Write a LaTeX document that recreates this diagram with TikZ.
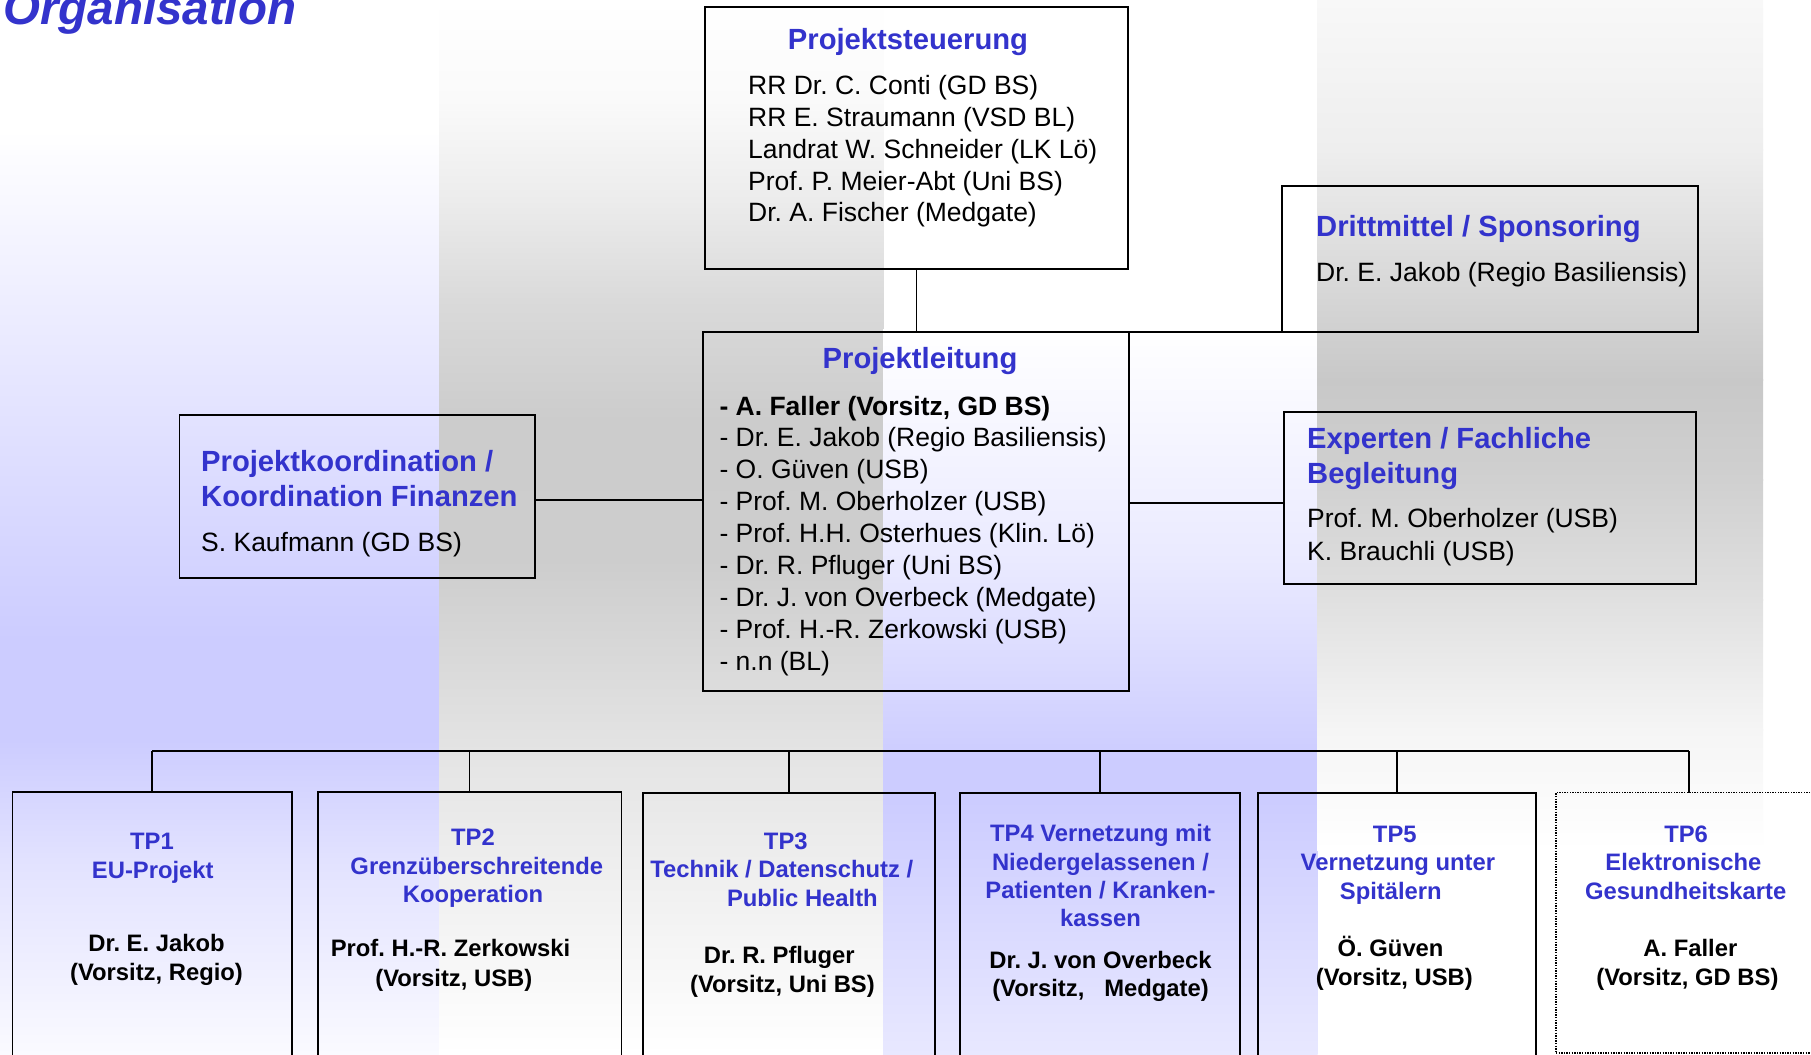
\documentclass[tikz,border=0pt]{standalone}
\usepackage{fontspec}
\setmainfont{Liberation Sans}
\usetikzlibrary{calc}
\definecolor{ttl}{RGB}{51,51,204}
\definecolor{lav}{RGB}{204,204,255}
\definecolor{aa3}{RGB}{226,226,255}
\definecolor{aa4}{RGB}{250,250,255}
\definecolor{bb1}{RGB}{250,250,250}
\definecolor{bb2}{RGB}{236,236,236}
\definecolor{bb3}{RGB}{218,218,218}
\definecolor{bb4}{RGB}{204,204,204}
\definecolor{bb5}{RGB}{205,205,205}
\definecolor{bb6}{RGB}{228,228,228}
\definecolor{cc1}{RGB}{234,234,255}
\definecolor{cc2}{RGB}{232,232,255}
\definecolor{dd0}{RGB}{248,248,248}
\definecolor{dd1}{RGB}{238,238,238}
\definecolor{dd2}{RGB}{200,200,200}
\definecolor{dd3}{RGB}{208,208,208}
\definecolor{dd4}{RGB}{224,224,224}
\definecolor{dd5}{RGB}{245,245,245}
\newcommand\bgseg[6]{\shade[top color=#5,bottom color=#6] (#1,#3-0.5) rectangle (#2,#4+0.5);}
\begin{document}
\frenchspacing
\begin{tikzpicture}[x=1pt,y=-1pt,
  box/.style={draw=black, line width=1.8pt, rectangle, inner sep=0pt, outer sep=0pt, anchor=north west},
  dotbox/.style={draw=black, line width=1.4pt, dash pattern=on 1.3pt off 1.3pt, rectangle, inner sep=0pt, outer sep=0pt, anchor=north west},
  conn/.style={draw=black, line width=1.8pt},
  ttlA/.style={text=ttl, font=\bfseries\fontsize{29.2}{35}\selectfont, inner sep=0pt},
  body/.style={text=black, font=\fontsize{26.5}{31.7}\selectfont, inner sep=0pt, anchor=base west},
  tpt/.style={text=ttl, font=\bfseries\fontsize{23.8}{29}\selectfont, inner sep=0pt, anchor=base},
  tpn/.style={text=black, font=\bfseries\fontsize{23.8}{29}\selectfont, inner sep=0pt, anchor=base}]
\useasboundingbox (0,0) rectangle (1811,1054);
\clip (0,0) rectangle (1811,1054);
\fill[white] (0,0) rectangle (1811,1054);
% band A
\bgseg{0}{439.5}{130}{640}{white}{lav}
\fill[lav] (0,640) rectangle (439.5,740);
\bgseg{0}{439.5}{740}{860}{lav}{aa3}
\bgseg{0}{439.5}{860}{1054}{aa3}{aa4}
% band B
\bgseg{439}{883.5}{0}{100}{white}{bb1}
\bgseg{439}{883.5}{100}{200}{bb1}{bb2}
\bgseg{439}{883.5}{200}{300}{bb2}{bb3}
\bgseg{439}{883.5}{300}{420}{bb3}{bb4}
\bgseg{439}{883.5}{420}{560}{bb4}{bb5}
\bgseg{439}{883.5}{560}{750}{bb5}{bb6}
\bgseg{439}{883.5}{750}{1054}{bb6}{white}
% band C
\bgseg{883}{1317.5}{330}{560}{white}{cc1}
\bgseg{883}{1317.5}{560}{760}{cc1}{lav}
\fill[lav] (883,760) rectangle (1317.5,800);
\bgseg{883}{1317.5}{800}{1054}{lav}{cc2}
% band D
\bgseg{1317}{1763}{0}{150}{dd0}{dd1}
\bgseg{1317}{1763}{150}{380}{dd1}{dd2}
\bgseg{1317}{1763}{380}{480}{dd2}{dd3}
\bgseg{1317}{1763}{480}{600}{dd3}{dd4}
\bgseg{1317}{1763}{600}{730}{dd4}{dd5}
\bgseg{1317}{1763}{730}{850}{dd5}{white}

% title
\node[text=ttl, font=\bfseries\itshape\fontsize{47.5}{57}\selectfont, inner sep=0pt, anchor=base west] (org) at (3,25) {Organisation};

% boxes
\node[box, minimum width=423pt, minimum height=262pt] (ps) at (705,7) {};
\node[box, minimum width=426pt, minimum height=359pt] (pl) at (703,332) {};
\node[box, minimum width=416pt, minimum height=146pt] (dm) at (1282,186) {};
\node[box, minimum width=355.5pt, minimum height=163.6pt] (pk) at (179.5,414.7) {};
\node[box, minimum width=412pt, minimum height=172pt] (ex) at (1284,412) {};
\node[box, minimum width=279.5pt, minimum height=300pt] (tp1) at (12.4,792.3) {};
\node[box, minimum width=303.9pt, minimum height=300pt] (tp2) at (317.6,791.7) {};
\node[box, minimum width=292.6pt, minimum height=300pt] (tp3) at (642.7,792.7) {};
\node[box, minimum width=279.9pt, minimum height=300pt] (tp4) at (960.2,792.7) {};
\node[box, minimum width=277.5pt, minimum height=300pt] (tp5) at (1258.2,792.7) {};
\node[dotbox, minimum width=266pt, minimum height=260.3pt] (tp6) at (1556,792.7) {};

% connectors
\draw[conn] (ps.south) -- (ps.south |- pl.north);
\draw[conn] (pl.north east) -- (dm.south west);
\coordinate (pkout) at ($(pk.north east)!0.52!(pk.south east)$);
\draw[conn] (pkout) -- (pkout -| pl.west);
\coordinate (exin) at ($(ex.north west)!0.53!(ex.south west)$);
\draw[conn] (exin) -- (exin -| pl.east);
\coordinate (bus) at (0,750.7);
\draw[conn] (tp1.north |- bus) -- (tp6.north |- bus);
\foreach \t in {tp1,tp2,tp3,tp4,tp5,tp6}
  \draw[conn] (\t.north) -- (\t.north |- bus);

% Projektsteuerung
\node[ttlA, anchor=base] (pst) at (908,50) {Projektsteuerung};
\node[body] (ps1) at (748,95) {RR Dr. C. Conti (GD BS)};
\node[body] (ps2) at (748,126.7) {RR E. Straumann (VSD BL)};
\node[body] (ps3) at (748,158.3) {Landrat W. Schneider (LK Lö)};
\node[body] (ps4) at (748,190) {Prof. P. Meier-Abt (Uni BS)};
\node[body] (ps5) at (748,221.7) {Dr. A. Fischer (Medgate)};

% Projektleitung
\node[ttlA, anchor=base] (plt) at (920,368.3) {Projektleitung};
\node[body, font=\bfseries\fontsize{26.5}{31.7}\selectfont] (pl1) at (719.3,415) {- A. Faller (Vorsitz, GD BS)};
\node[body] (pl2) at (719.3,446.9) {- Dr. E. Jakob (Regio Basiliensis)};
\node[body] (pl3) at (719.3,478.8) {- O. Güven (USB)};
\node[body] (pl4) at (719.3,510.7) {- Prof. M. Oberholzer (USB)};
\node[body] (pl5) at (719.3,542.6) {- Prof. H.H. Osterhues (Klin. Lö)};
\node[body] (pl6) at (719.3,574.5) {- Dr. R. Pfluger (Uni BS)};
\node[body] (pl7) at (719.3,606.4) {- Dr. J. von Overbeck (Medgate)};
\node[body] (pl8) at (719.3,638.3) {- Prof. H.-R. Zerkowski (USB)};
\node[body] (pl9) at (719.3,670.2) {- n.n (BL)};

% Drittmittel
\node[ttlA, anchor=base west] (dmt) at (1316,236) {Drittmittel / Sponsoring};
\node[body] (dm1) at (1316,281.7) {Dr. E. Jakob (Regio Basiliensis)};

% Projektkoordination
\node[ttlA, anchor=base west] (pkt1) at (201,471.7) {Projektkoordination /};
\node[ttlA, anchor=base west] (pkt2) at (201,506.7) {Koordination Finanzen};
\node[body] (pk1) at (201,551) {S. Kaufmann (GD BS)};

% Experten
\node[ttlA, anchor=base west] (ext1) at (1307,448.3) {Experten / Fachliche};
\node[ttlA, anchor=base west] (ext2) at (1307,483.3) {Begleitung};
\node[body] (ex1) at (1307,527.7) {Prof. M. Oberholzer (USB)};
\node[body] (ex2) at (1307,560) {K. Brauchli (USB)};

% TP1
\node[tpt] (t1a) at (152,849.3) {TP1};
\node[tpt] (t1b) at (152.8,878.3) {EU-Projekt};
\node[tpn] (t1c) at (156.5,951.7) {Dr. E. Jakob};
\node[tpn] (t1d) at (156.5,980.7) {(Vorsitz, Regio)};
% TP2
\node[tpt] (t2a) at (473,845) {TP2};
\node[tpt] (t2b) at (476.8,874) {Grenzüberschreitende};
\node[tpt] (t2c) at (473,902.7) {Kooperation};
\node[tpn] (t2d) at (450.5,956.7) {Prof. H.-R. Zerkowski};
\node[tpn] (t2e) at (453.8,986) {(Vorsitz, USB)};
% TP3
\node[tpt] (t3a) at (785.8,849.3) {TP3};
\node[tpt] (t3b) at (781.8,877.3) {Technik / Datenschutz /};
\node[tpt] (t3c) at (802.4,906) {Public Health};
\node[tpn] (t3d) at (779.3,963.3) {Dr. R. Pfluger};
\node[tpn] (t3e) at (782.4,992.7) {(Vorsitz, Uni BS)};
% TP4
\node[tpt] (t4a) at (1100.5,841) {TP4 Vernetzung mit};
\node[tpt] (t4b) at (1100.5,870) {Niedergelassenen /};
\node[tpt] (t4c) at (1100.5,898.3) {Patienten / Kranken-};
\node[tpt] (t4d) at (1100.5,926.7) {kassen};
\node[tpn] (t4e) at (1100.5,968.3) {Dr. J. von Overbeck};
\node[tpn] (t4f) at (1100.5,996.7) {(Vorsitz,\ \ \ Medgate)};
% TP5
\node[tpt] (t5a) at (1394.8,842.3) {TP5};
\node[tpt] (t5b) at (1397.9,870.7) {Vernetzung unter};
\node[tpt] (t5c) at (1390.8,899.3) {Spitälern};
\node[tpn] (t5d) at (1390.6,956.7) {Ö. Güven};
\node[tpn] (t5e) at (1394.4,985.7) {(Vorsitz, USB)};
% TP6
\node[tpt] (t6a) at (1686.1,842.3) {TP6};
\node[tpt] (t6b) at (1683.4,870.7) {Elektronische};
\node[tpt] (t6c) at (1685.7,899.3) {Gesundheitskarte};
\node[tpn] (t6d) at (1690.3,956.7) {A. Faller};
\node[tpn] (t6e) at (1687.4,985.7) {(Vorsitz, GD BS)};
\end{tikzpicture}
\end{document}
